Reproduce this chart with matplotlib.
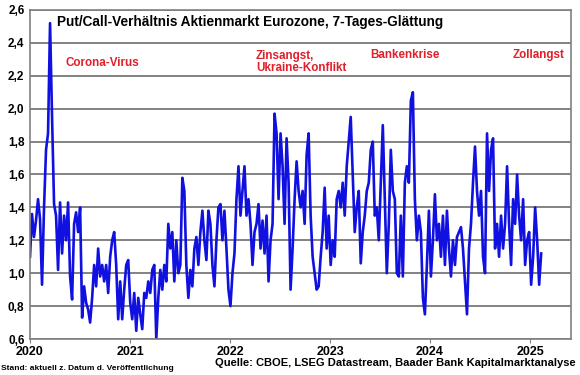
import numpy as np
import pandas as pd
import matplotlib
matplotlib.use("Agg")
import matplotlib.pyplot as plt
from matplotlib.ticker import FuncFormatter, MultipleLocator

plt.rcParams['font.family'] = ['Liberation Sans', 'DejaVu Sans']

# Put/Call ratio, 7-day smoothing (Jan 2020 - Feb 2025)
pc_ratio = [
    1.10, 1.36, 1.22, 1.32, 1.45, 1.33, 0.93, 1.40, 1.75, 1.85,
    2.52, 1.95, 1.42, 1.35, 1.02, 1.43, 1.12, 1.35, 1.20, 1.43,
    0.98, 0.84, 1.30, 1.37, 1.25, 1.40, 0.73, 0.92, 0.82, 0.78,
    0.70, 0.85, 1.05, 0.92, 1.15, 0.98, 1.05, 0.95, 1.05, 0.88,
    1.10, 1.20, 1.25, 1.05, 0.72, 0.95, 0.72, 0.90, 1.05, 1.08,
    0.82, 0.72, 0.88, 0.65, 0.85, 0.75, 0.66, 0.88, 0.85, 0.95,
    0.88, 1.02, 1.05, 0.60, 0.85, 1.02, 0.90, 1.05, 0.95, 1.30,
    1.15, 1.25, 0.95, 1.20, 1.00, 1.05, 1.58, 1.50, 1.05, 0.85,
    1.02, 0.92, 1.15, 1.22, 1.05, 1.25, 1.38, 1.20, 1.08, 1.38,
    1.30, 1.05, 0.92, 1.20, 1.40, 1.42, 1.20, 1.38, 1.15, 0.90,
    0.80, 1.00, 1.12, 1.45, 1.65, 1.35, 1.50, 1.65, 1.35, 1.45,
    1.30, 1.05, 1.25, 1.30, 1.42, 1.15, 1.32, 1.12, 1.35, 0.95,
    1.20, 1.30, 1.97, 1.85, 1.45, 1.85, 1.65, 1.30, 1.82, 1.55,
    0.90, 1.15, 1.45, 1.68, 1.50, 1.40, 1.50, 1.30, 1.72, 1.85,
    1.35, 1.10, 1.00, 0.90, 0.92, 1.10, 1.25, 1.52, 1.15, 1.35,
    1.05, 1.20, 1.10, 1.45, 1.50, 1.40, 1.55, 1.35, 1.65, 1.80,
    1.95, 1.60, 1.25, 1.40, 1.50, 1.06, 1.25, 1.35, 1.50, 1.55,
    1.75, 1.80, 1.35, 1.40, 1.20, 1.55, 1.90, 1.45, 1.00, 1.30,
    1.75, 1.50, 1.45, 1.00, 0.98, 1.35, 0.98, 1.55, 1.65, 1.55,
    2.05, 2.10, 1.45, 1.20, 1.35, 1.25, 0.85, 0.75, 1.05, 1.38,
    0.98, 1.20, 1.48, 1.20, 1.30, 1.10, 1.35, 1.05, 1.38, 1.15,
    0.98, 1.20, 1.05, 1.22, 1.25, 1.28, 1.15, 0.95, 0.75, 1.15,
    1.30, 1.55, 1.77, 1.50, 1.35, 1.50, 1.10, 1.00, 1.85, 1.50,
    1.75, 1.82, 1.15, 1.30, 1.10, 1.35, 1.15, 1.30, 1.65, 1.30,
    1.05, 1.45, 1.30, 1.60, 1.35, 1.20, 1.45, 1.05, 1.20, 1.25,
    0.93, 1.10, 1.40, 1.20, 0.93, 1.12,
]
dates = pd.date_range('2020-01-01', '2025-02-10', periods=len(pc_ratio))

years = [2020, 2021, 2022, 2023, 2024, 2025]
year_labels = [str(y) for y in years]

title = "Put/Call-Verhältnis Aktienmarkt Eurozone, 7-Tages-Glättung"
events = ["Corona-Virus", "Zinsangst,\nUkraine-Konflikt", "Bankenkrise", "Zollangst"]
event_pos = [(65, 63), (256, 62), (370, 55), (513, 55)]  # pixel positions

red = '#e0202a'

fig = plt.figure(figsize=(5.8, 3.75), dpi=100)
ax = fig.add_axes([30 / 580, 1 - 339 / 375, 541 / 580, 329 / 375])

ax.plot(dates, pc_ratio, color='#1010e0', linewidth=1.9)

ax.set_ylim(0.6, 2.6)
ax.set_xlim(pd.Timestamp('2020-01-01'), pd.Timestamp('2025-05-30'))
ax.yaxis.set_major_locator(MultipleLocator(0.2))
ax.yaxis.set_major_formatter(FuncFormatter(lambda v, p: f"{v:.1f}".replace('.', ',')))
ax.grid(axis='y', color='#606060', linewidth=1.1)
ax.set_axisbelow(True)

ax.set_xticks([pd.Timestamp(f'{y}-01-01') for y in years])
ax.set_xticklabels(year_labels)

for s in ax.spines.values():
    s.set_color('#808080')
    s.set_linewidth(1.2)

ax.tick_params(axis='y', length=0, pad=4, labelsize=8.5)
ax.tick_params(axis='x', length=3, color='#808080', pad=2, labelsize=9)
for lbl in ax.get_xticklabels() + ax.get_yticklabels():
    lbl.set_fontweight('bold')

fig.text(57 / 580, 1 - 22 / 375, title, fontsize=9.8, fontweight='bold',
         va='center', ha='left')

for txt, (px, py) in zip(events, event_pos):
    fig.text(px / 580, 1 - py / 375, txt, color=red, fontsize=8.4, fontweight='bold',
             va='center', ha='left', linespacing=1.05)

fig.text(1 / 580, 1 - 368 / 375, "Stand: aktuell z. Datum d. Veröffentlichung",
         fontsize=6.0, fontweight='bold', va='center', ha='left')
fig.text(576 / 580, 1 - 363 / 375, "Quelle: CBOE, LSEG Datastream, Baader Bank Kapitalmarktanalyse",
         fontsize=8, fontweight='bold', va='center', ha='right')

fig.savefig('out.png', dpi=100)
